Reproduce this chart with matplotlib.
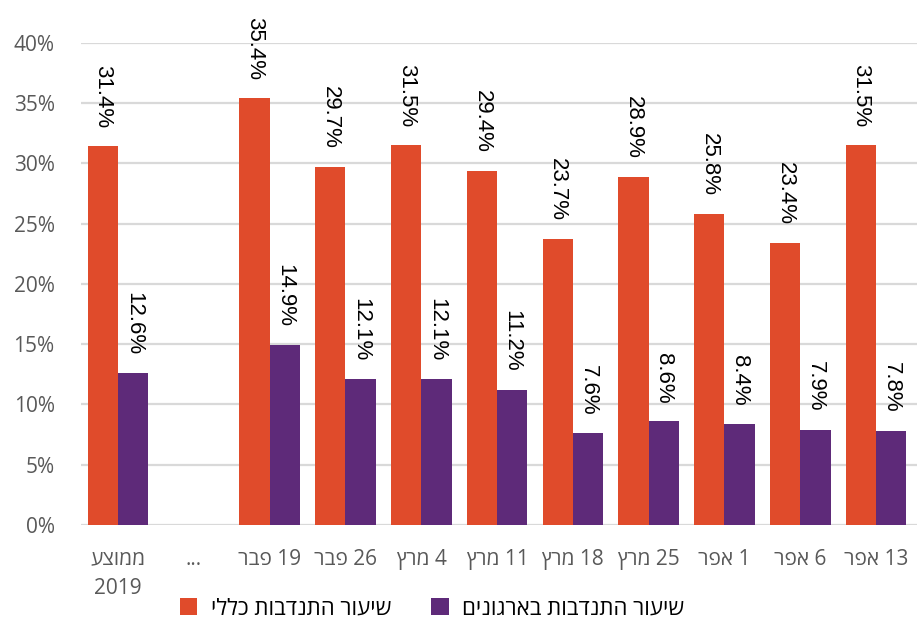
import numpy as np
import matplotlib
matplotlib.use('Agg')
import matplotlib.pyplot as plt

plt.rcParams['font.family'] = ['Open Sans', 'DejaVu Sans']

# hebrew labels are written in visual (left-to-right) order, matplotlib has no bidi
categories = ['עצוממ\n2019', '...', 'רבפ 19', 'רבפ 26', 'ץרמ 4', 'ץרמ 11',
              'ץרמ 18', 'ץרמ 25', 'רפא 1', 'רפא 6', 'רפא 13']
general_rate = [31.4, np.nan, 35.4, 29.7, 31.5, 29.4, 23.7, 28.9, 25.8, 23.4, 31.5]
org_rate = [12.6, np.nan, 14.9, 12.1, 12.1, 11.2, 7.6, 8.6, 8.4, 7.9, 7.8]
series_names = ['יללכ תובדנתה רועיש', 'םינוגראב תובדנתה רועיש']

red = '#E04B2B'
purple = '#5E2A79'
gray_text = '#595959'

fig = plt.figure(figsize=(9.17, 6.21), dpi=100)
ax = fig.add_axes([0.0883, 0.1546, 0.9117, 0.7766])

x = np.arange(len(categories))
w = 0.4
b1 = ax.bar(x - w / 2, general_rate, w, color=red, label=series_names[0], zorder=3)
b2 = ax.bar(x + w / 2, org_rate, w, color=purple, label=series_names[1], zorder=3)

# value labels, rotated, sitting above each bar
for bars, vals in [(b1, general_rate), (b2, org_rate)]:
    for rect, v in zip(bars, vals):
        if np.isnan(v):
            continue
        ax.annotate(f'{v:.1f}%', (rect.get_x() + rect.get_width() / 2, v),
                    xytext=(0, 13), textcoords='offset points',
                    rotation=270, ha='center', va='bottom',
                    fontsize=16, color='black', family=['Liberation Sans', 'DejaVu Sans'],
                    annotation_clip=False)

ax.set_ylim(0, 40)
ax.set_xlim(-0.49, 10.54)
ax.set_yticks(range(0, 41, 5))
ax.set_yticklabels([f'{t}%' for t in range(0, 41, 5)])
ax.set_xticks(x)
ax.set_xticklabels(categories, linespacing=1.55)

ax.grid(axis='y', color='#D9D9D9', linewidth=1.6, zorder=0)
for s in ax.spines.values():
    s.set_visible(False)
ax.tick_params(axis='y', length=0, pad=19, labelsize=15, labelcolor=gray_text)
ax.tick_params(axis='x', length=0, pad=17, labelsize=15, labelcolor=gray_text)

fig.legend(handles=[b1, b2], loc='lower center', bbox_to_anchor=(432 / 917, -0.03),
           ncol=2, frameon=False, fontsize=16, handlelength=0.8, handleheight=0.8,
           handletextpad=0.6, columnspacing=1.8)

fig.savefig('out.png', dpi=100)
